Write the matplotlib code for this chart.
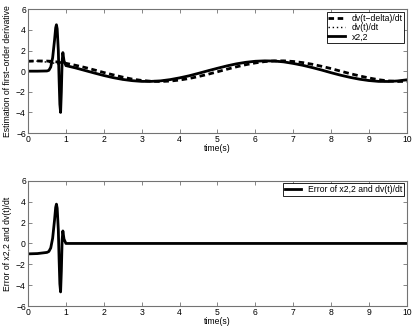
import matplotlib.pyplot as plt

# sampled time points (s)
t = [0.0, 0.25, 0.5, 0.55, 0.6, 0.65, 0.7, 0.73, 0.75, 0.77, 0.8, 0.82, 0.84,
     0.86, 0.88, 0.9, 0.92, 0.95, 1.0, 1.25, 1.5, 1.75, 2.0, 2.25, 2.5, 2.75,
     3.0, 3.25, 3.5, 3.75, 4.0, 4.25, 4.5, 4.75, 5.0, 5.25, 5.5, 5.75, 6.0,
     6.25, 6.5, 6.75, 7.0, 7.25, 7.5, 7.75, 8.0, 8.25, 8.5, 8.75, 9.0, 9.25,
     9.5, 9.75, 10.0]

dv_delayed = [0.96, 0.99, 0.98, 0.97, 0.96, 0.94, 0.92, 0.91, 0.90, 0.89, 0.87,
              0.86, 0.84, 0.83, 0.82, 0.80, 0.79, 0.77, 0.76, 0.57, 0.36, 0.12,
              -0.13, -0.36, -0.58, -0.77, -0.90, -0.98, -1.00, -0.96, -0.86,
              -0.71, -0.52, -0.30, -0.06, 0.19, 0.42, 0.63, 0.80, 0.93, 0.99,
              1.00, 0.94, 0.83, 0.67, 0.47, 0.25, 0.00, -0.24, -0.46, -0.66,
              -0.83, -0.94, -1.00, -0.99]

dv_true = [1.00, 0.97, 0.88, 0.85, 0.83, 0.80, 0.76, 0.74, 0.73, 0.72, 0.70,
           0.68, 0.67, 0.65, 0.64, 0.62, 0.60, 0.58, 0.54, 0.32, 0.07, -0.18,
           -0.42, -0.63, -0.80, -0.92, -0.99, -0.99, -0.94, -0.82, -0.65, -0.45,
           -0.21, 0.04, 0.28, 0.51, 0.71, 0.86, 0.96, 1.00, 0.98, 0.90, 0.75,
           0.57, 0.35, 0.11, -0.15, -0.39, -0.60, -0.78, -0.91, -0.99, -1.00,
           -0.95, -0.84]

x22 = [0.0, 0.0, 0.02, 0.08, 0.4, 1.3, 3.0, 4.2, 4.5, 4.1, 2.0, -0.8, -3.2,
       -4.0, -2.0, 0.9, 1.8, 1.0, 0.54, 0.32, 0.07, -0.18,
       -0.42, -0.63, -0.80, -0.92, -0.99, -0.99, -0.94, -0.82, -0.65, -0.45,
       -0.21, 0.04, 0.28, 0.51, 0.71, 0.86, 0.96, 1.00, 0.98, 0.90, 0.75,
       0.57, 0.35, 0.11, -0.15, -0.39, -0.60, -0.78, -0.91, -0.99, -1.00,
       -0.95, -0.84]

error = [-1.0, -0.97, -0.86, -0.77, -0.43, 0.5, 2.24, 3.46, 3.77, 3.38, 1.3,
         -1.48, -3.87, -4.65, -2.64, 0.28, 1.2, 0.42, 0.0, 0.0, 0.0, 0.0,
         0.0, 0.0, 0.0, 0.0, 0.0, 0.0, 0.0, 0.0, 0.0, 0.0, 0.0, 0.0, 0.0, 0.0,
         0.0, 0.0, 0.0, 0.0, 0.0, 0.0, 0.0, 0.0, 0.0, 0.0, 0.0, 0.0, 0.0, 0.0,
         0.0, 0.0, 0.0, 0.0, 0.0]

xticks = list(range(0, 11))
yticks = [-6, -4, -2, 0, 2, 4, 6]

plt.rcParams["font.family"] = ["Liberation Sans", "DejaVu Sans"]
plt.rcParams["font.size"] = 6.2

fig = plt.figure(figsize=(4.15, 3.31), dpi=100)
ax1 = fig.add_axes([0.0675, 0.598, 0.913, 0.374])
ax2 = fig.add_axes([0.0675, 0.0755, 0.913, 0.378])

lw = 2.0
ax1.plot(t, dv_delayed, color="black", linestyle=(0, (2, 1.3)), linewidth=lw,
         label="dv(t\u2212delta)/dt")
ax1.plot(t, dv_true, color="black", linestyle=(0, (1, 2)), linewidth=1.0,
         label="dv(t)/dt")
ax1.plot(t, x22, color="black", linewidth=lw, label="x2,2")
ax1.set_ylabel("Estimation of first\u2212order derivative")

ax2.plot(t, error, color="black", linewidth=lw, label="Error of x2,2 and dv(t)/dt")
ax2.set_ylabel("Error of x2,2 and dv(t)/dt")

for ax in (ax1, ax2):
    ax.set_xlim(0, 10)
    ax.set_ylim(-6, 6)
    ax.set_xticks(xticks)
    ax.set_yticks(yticks)
    ax.set_yticklabels([str(v).replace("-", "\u2212") for v in yticks])
    ax.set_xlabel("time(s)", labelpad=0)
    ax.tick_params(direction="in", top=True, right=True, length=3,
                   width=0.6, color="0.45", pad=1.5)
    for s in ax.spines.values():
        s.set_color("0.45")
        s.set_linewidth(0.8)
    ax.yaxis.labelpad = 3
    leg = ax.legend(loc="upper right", fancybox=False, framealpha=1,
                    edgecolor="black", borderpad=0.2, labelspacing=0.05,
                    handlelength=1.9, handletextpad=0.8, borderaxespad=0.3,
                    fontsize=6.2)
    leg.get_frame().set_linewidth(0.6)

fig.savefig("out.png", dpi=100)
